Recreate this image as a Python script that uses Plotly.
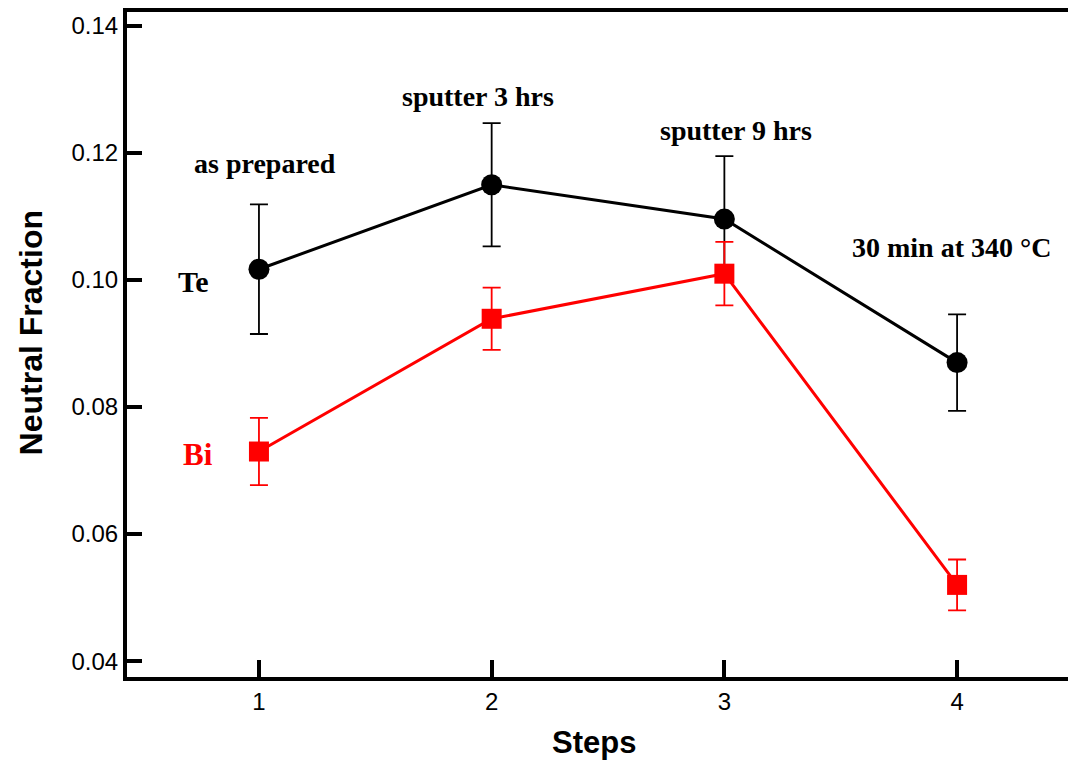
import plotly.graph_objects as go

steps = [1, 2, 3, 4]
te_vals = [0.1017, 0.1150, 0.1096, 0.0870]
te_err = [0.0102, 0.0097, 0.0099, 0.0076]
bi_vals = [0.0730, 0.0939, 0.1010, 0.0520]
bi_err = [0.0053, 0.0049, 0.0050, 0.0040]

step_labels = ["as prepared", "sputter 3 hrs", "sputter 9 hrs", "30 min at 340 °C"]
label_x = [1.026, 1.941, 3.049, 3.978]
label_y = [0.1184, 0.1289, 0.1236, 0.1051]

fig = go.Figure()
fig.add_trace(go.Scatter(
    x=steps, y=te_vals, mode="lines+markers", name="Te",
    line=dict(color="black", width=3),
    marker=dict(symbol="circle", size=21, color="black"),
    error_y=dict(type="data", array=te_err, color="black", thickness=1.8, width=9),
))
fig.add_trace(go.Scatter(
    x=steps, y=bi_vals, mode="lines+markers", name="Bi",
    line=dict(color="#ff0000", width=3),
    marker=dict(symbol="square", size=20, color="#ff0000"),
    error_y=dict(type="data", array=bi_err, color="#ff0000", thickness=1.8, width=9),
))

serif = "Liberation Serif, Times New Roman, serif"
sans = "Liberation Sans, Arial, sans-serif"
for t, x, y in zip(step_labels, label_x, label_y):
    fig.add_annotation(x=x, y=y, text="<b>" + t + "</b>", showarrow=False,
                       font=dict(family=serif, size=28, color="black"))
fig.add_annotation(x=0.72, y=0.0998, text="<b>Te</b>", showarrow=False,
                   font=dict(family=serif, size=30, color="black"))
fig.add_annotation(x=0.738, y=0.0726, text="<b>Bi</b>", showarrow=False,
                   font=dict(family=serif, size=31, color="#ff0000"))

# axis titles
fig.add_annotation(x=2.44, xref="x", y=0, yref="paper", yanchor="middle", yshift=-65,
                   text="<b>Steps</b>", showarrow=False,
                   font=dict(family=sans, size=31, color="black"))
fig.add_annotation(x=0, xref="paper", xanchor="center", xshift=-96,
                   y=0.0916, yref="y", yanchor="middle", textangle=-90,
                   text="<b>Neutral Fraction</b>", showarrow=False, borderpad=0,
                   font=dict(family=sans, size=32, color="black"))

fig.update_layout(
    width=1068, height=757,
    margin=dict(l=119, r=0, t=0, b=88),
    paper_bgcolor="white", plot_bgcolor="white",
    showlegend=False,
    font=dict(family=sans, color="black"),
    xaxis=dict(
        range=[0.433, 4.511], tickvals=steps, ticktext=[str(s) for s in steps],
        showgrid=False, zeroline=False, showline=True, linecolor="black", linewidth=4,
        mirror=True, ticks="inside", ticklen=17, tickwidth=4, tickcolor="black",
        tickfont=dict(size=24, family=sans),
    ),
    yaxis=dict(
        range=[0.0375, 0.1422], tickvals=[0.04, 0.06, 0.08, 0.10, 0.12, 0.14],
        ticktext=["0.04", "0.06", "0.08", "0.10", "0.12", "0.14"],
        showgrid=False, zeroline=False, showline=True, linecolor="black", linewidth=4,
        ticks="inside", ticklen=15, tickwidth=4, tickcolor="black",
        tickfont=dict(size=24, family=sans),
    ),
)

fig.write_html("out.html")
